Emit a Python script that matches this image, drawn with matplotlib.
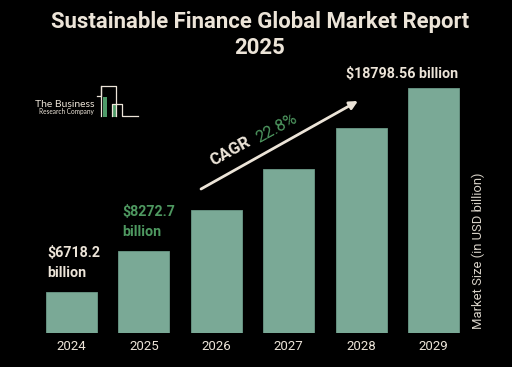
import matplotlib
matplotlib.use("Agg")
import matplotlib.pyplot as plt
from matplotlib.lines import Line2D
from matplotlib.patches import Rectangle

# ---- data ----
years = ["2024", "2025", "2026", "2027", "2028", "2029"]
# visual bar heights (relative units)
bar_heights = [40.7, 81.7, 122.7, 163.7, 204.7, 245.3]
label_2024 = ["$6718.2", "billion"]
label_2025 = ["$8272.7", "billion"]
label_2029 = "$18798.56 billion"
cagr_text = "CAGR"
cagr_value = "22.8%"
title_lines = ["Sustainable Finance Global Market Report", "2025"]
ylabel = "Market Size (in USD billion)"

# ---- style ----
BG = "#000000"
BAR = "#7aa996"
TXT = "#ece4d8"
GREEN = "#4e9860"
W, H = 512, 367
plt.rcParams['font.family'] = ['Roboto', 'DejaVu Sans']

fig = plt.figure(figsize=(W / 100, H / 100), dpi=100, facecolor=BG)

def fx(px):
    return px / W

def fy(py):
    return 1 - py / H

ax_left, ax_right, ax_bottom, ax_top = 35.3, 469.7, 333, 60
ax = fig.add_axes([fx(ax_left), fy(ax_bottom), fx(ax_right - ax_left), (ax_bottom - ax_top) / H])
ax.set_facecolor(BG)
x = list(range(len(years)))
ax.bar(x, bar_heights, width=0.705, color=BAR, edgecolor="#6b9987", linewidth=0.6)
ax.set_xlim(-0.5, len(years) - 0.5)
ax.set_ylim(0, ax_bottom - ax_top)
ax.set_xticks(x)
ax.set_xticklabels(years, color=TXT, fontsize=9.5)
ax.tick_params(axis='x', length=0, pad=5)
ax.set_yticks([])
for s in ax.spines.values():
    s.set_visible(False)

# value labels
ax.text(-0.329, 76, label_2024[0], color=TXT, fontsize=10.3, fontweight='bold', ha='left', va='baseline')
ax.text(-0.329, 56, label_2024[1], color=TXT, fontsize=10.3, fontweight='bold', ha='left', va='baseline')
ax.text(0.707, 117.3, label_2025[0], color=GREEN, fontsize=10.3, fontweight='bold', ha='left', va='baseline')
ax.text(0.707, 97.3, label_2025[1], color=GREEN, fontsize=10.3, fontweight='bold', ha='left', va='baseline')
ax.text(4.56, 254.7, label_2029, color=TXT, fontsize=10.3, fontweight='bold', ha='center', va='baseline', clip_on=False)

# CAGR arrow and text
ax.annotate("", xy=(3.957, 232), xytext=(1.789, 144),
            arrowprops=dict(arrowstyle="-|>", color=TXT, lw=2, mutation_scale=12, shrinkA=0, shrinkB=0))
ax.text(2.19, 182, cagr_text, color=TXT, fontsize=12, fontweight='bold', rotation=29,
        ha='center', va='center', rotation_mode='anchor')
ax.text(2.83, 205, cagr_value, color=GREEN, fontsize=12, rotation=29,
        ha='center', va='center', rotation_mode='anchor')

# y label
fig.text(fx(478), fy(251), ylabel, rotation=90, color="#d8d2c8", fontsize=9.4, ha='center', va='center')

# title
fig.text(fx(260), fy(28), title_lines[0], color=TXT, fontsize=15.9, fontweight='bold', ha='center', va='baseline')
fig.text(fx(260), fy(54), title_lines[1], color=TXT, fontsize=15.9, fontweight='bold', ha='center', va='baseline')

# logo
fig.text(fx(35), fy(107), "The Business", color=TXT, fontsize=7.5, family=['Lato', 'DejaVu Sans'], ha='left', va='baseline')
fig.text(fx(39), fy(114), "Research Company", color=TXT, fontsize=4.7, family=['Lato', 'DejaVu Sans'], ha='left', va='baseline')
logo_pts = [(96.7, 96), (101, 96), (101, 86), (115.7, 86), (115.7, 116)]
fig.add_artist(Line2D([fx(p[0]) for p in logo_pts], [fy(p[1]) for p in logo_pts], color=TXT, lw=0.9))
fig.add_artist(Line2D([fx(101), fx(101)], [fy(86), fy(116)], color=TXT, lw=0.9))
logo_pts2 = [(111.7, 116), (111.7, 104), (121.7, 104), (121.7, 116), (138.3, 116)]
fig.add_artist(Line2D([fx(p[0]) for p in logo_pts2], [fy(p[1]) for p in logo_pts2], color=TXT, lw=0.9))
fig.add_artist(Rectangle((fx(103.3), fy(116.5)), fx(4), (116.5 - 96.7) / H, color="#4e9a68", lw=0))
fig.add_artist(Rectangle((fx(112.7), fy(116.5)), fx(3.2), (116.5 - 104.5) / H, color="#4e9a68", lw=0))

fig.savefig("out.png", dpi=100, facecolor=BG)
